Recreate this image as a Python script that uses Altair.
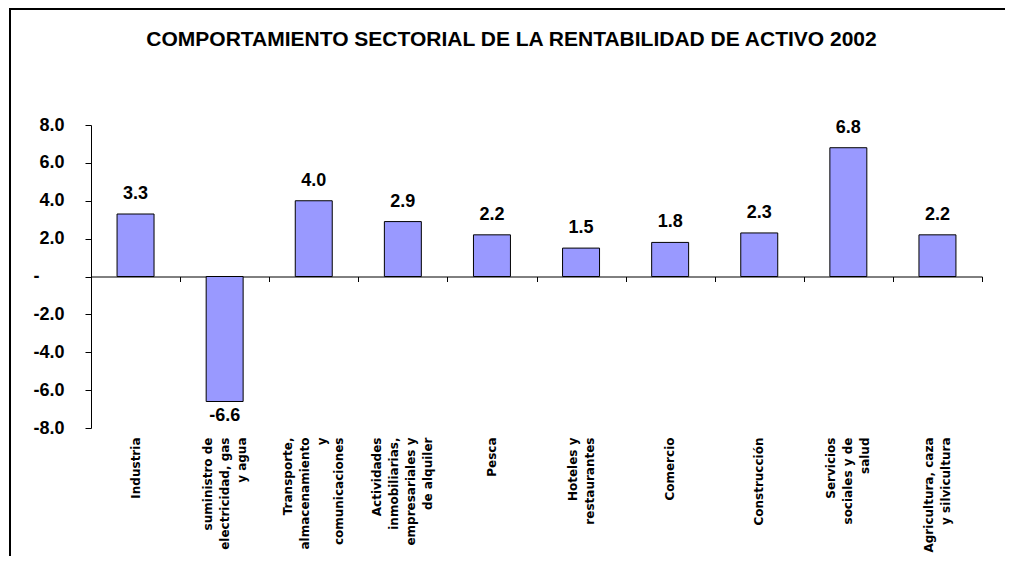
import altair as alt
import pandas as pd

categories = [
    "Industria",
    "suministro de\nelectricidad, gas\ny agua",
    "Transporte,\nalmacenamiento\ny\ncomunicaciones",
    "Actividades\ninmobiliarias,\nempresariales y\nde alquiler",
    "Pesca",
    "Hoteles y\nrestaurantes",
    "Comercio",
    "Construcción",
    "Servicios\nsociales y de\nsalud",
    "Agricultura, caza\ny silvicultura",
]
values = [3.3, -6.6, 4.0, 2.9, 2.2, 1.5, 1.8, 2.3, 6.8, 2.2]
y_ticks = [-8, -6, -4, -2, 0, 2, 4, 6, 8]
title_text = "COMPORTAMIENTO SECTORIAL DE LA RENTABILIDAD DE ACTIVO 2002"

df = pd.DataFrame({"cat": categories, "value": values})

W, H = 891, 303
FONT = "Liberation Sans"
LH = 17

xscale = alt.Scale(domain=categories, paddingInner=0.585, paddingOuter=0.2925)
xscale_full = alt.Scale(domain=categories, paddingInner=0, paddingOuter=0)
yscale = alt.Scale(domain=[-8, 8], nice=False, zero=False)

y_axis = alt.Axis(values=y_ticks, grid=False, domainColor="black", tickColor="black",
                  tickSize=6, labelFont=FONT, labelFontSize=18,
                  labelFontWeight="bold", labelColor="black", labelOverlap=False,
                  labelPadding={"condition": {"test": "datum.value == 0", "value": 46},
                                "value": 21},
                  labelExpr="datum.value == 0 ? '-' : replace(format(datum.value, '.1f'), '\u2212', '-')")

base = alt.Chart(df).transform_calculate(
    lbl="replace(format(datum.value, '.1f'), '\u2212', '-')"
)

nlines = "length(split(datum.label, '\\n'))"
label_offset = {
    "condition": [
        {"test": f"{nlines} == 2", "value": -LH / 2},
        {"test": f"{nlines} == 3", "value": -LH},
        {"test": f"{nlines} == 4", "value": -1.5 * LH},
    ],
    "value": 0,
}

bars = base.mark_bar(color="#9999FF", stroke="black", strokeWidth=1).encode(
    x=alt.X("cat:N", sort=None, scale=xscale, title=None,
            axis=alt.Axis(orient="bottom", domain=False, ticks=False, tickSize=0, labelPadding=9,
                          labelAngle=-90, labelFont="DejaVu Sans", labelFontWeight="bold",
                          labelFontSize=12, labelLineHeight=LH, labelColor="black",
                          labelExpr="split(datum.label, '\\n')", labelLimit=0,
                          labelOverlap=False, labelOffset=label_offset)),
    y=alt.Y("value:Q", scale=yscale, title=None, axis=y_axis),
)

pos_labels = base.transform_filter("datum.value >= 0").mark_text(
    font=FONT, fontSize=18, fontWeight="bold", color="black", baseline="alphabetic", dy=-15
).encode(
    x=alt.X("cat:N", sort=None, scale=xscale, axis=None),
    y=alt.Y("value:Q", scale=yscale, title=None, axis=y_axis),
    text="lbl:N",
)

neg_labels = base.transform_filter("datum.value < 0").mark_text(
    font=FONT, fontSize=18, fontWeight="bold", color="black", baseline="alphabetic", dy=20
).encode(
    x=alt.X("cat:N", sort=None, scale=xscale, axis=None),
    y=alt.Y("value:Q", scale=yscale, title=None, axis=y_axis),
    text="lbl:N",
)

frame_top = base.mark_rule(color="black", strokeWidth=2).encode(
    x=alt.value(-82), x2=alt.value(1000), y=alt.value(-116)
)
frame_left = base.mark_rule(color="black", strokeWidth=2).encode(
    x=alt.value(-81), y=alt.value(-117), y2=alt.value(600)
)

zero_axis = base.mark_point(opacity=0).encode(
    x=alt.X("cat:N", sort=None, scale=xscale_full, title=None,
            axis=alt.Axis(orient="bottom", labels=False, domainColor="black", tickColor="black",
                          tickSize=5, tickBand="extent", offset=-H / 2)),
)

chart = alt.layer(
    frame_top, frame_left, bars, zero_axis, pos_labels, neg_labels
).resolve_scale(x="independent").resolve_axis(x="independent").properties(
    width=W, height=H,
    background="white",
    title=alt.TitleParams(title_text, font=FONT, fontSize=21, fontWeight="bold",
                          color="black", anchor="middle", dx=-25, offset=-43),
    autosize=alt.AutoSizeParams(type="none"),
    padding={"left": 83, "top": 117, "right": 23, "bottom": 128},
).configure_view(strokeWidth=0)

chart.save("out.html", embed_options={"renderer": "svg", "actions": False})
